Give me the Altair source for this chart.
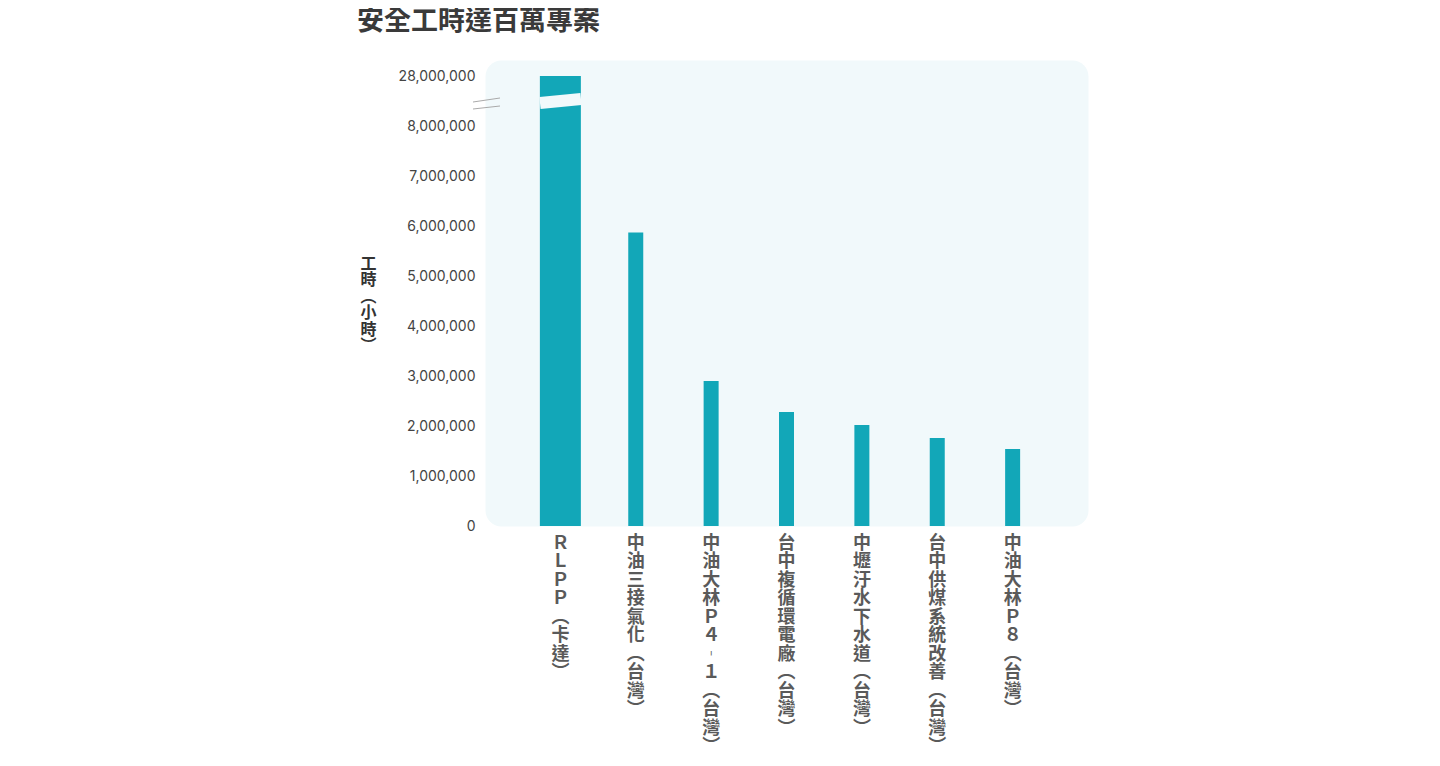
import altair as alt
import pandas as pd

projects = [
    "ＲＬＰＰ︵卡達︶",
    "中油三接氣化︵台灣︶",
    "中油大林Ｐ４︲１︵台灣︶",
    "台中複循環電廠︵台灣︶",
    "中壢汙水下水道︵台灣︶",
    "台中供煤系統改善︵台灣︶",
    "中油大林Ｐ８︵台灣︶",
]
hours = [28000000, 5870000, 2900000, 2280000, 2020000, 1760000, 1540000]

y_ticks = [0, 1000000, 2000000, 3000000, 4000000, 5000000, 6000000, 7000000, 8000000, 9000000]
BREAK_AT = 9000000
BREAK_LABEL = "28,000,000"

df = pd.DataFrame({"project": projects, "hours": hours})

BAR = "#12A7B8"
BG = "#F1F9FB"

base = alt.Chart(df)

bars = base.transform_calculate(
    shown=f"min(datum.hours, {BREAK_AT})"
).mark_bar(color=BAR).encode(
    x=alt.X(
        "project:N",
        sort=None,
        scale=alt.Scale(paddingInner=0, paddingOuter=0.5),
        axis=alt.Axis(
            title=None,
            labelAngle=0,
            labelExpr="split(datum.label, '')",
            labelBaseline="top",
            labelAlign="center",
            labelLineHeight=18.5,
            labelFontSize=18,
            labelFont="Noto Sans CJK TC",
            labelFontWeight="bold",
            labelColor="#5A5A5A",
            labelPadding=8,
            ticks=False,
            domain=False,
        ),
    ),
    y=alt.Y(
        "shown:Q",
        scale=alt.Scale(domain=[0, 9320000], nice=False, zero=True),
        axis=alt.Axis(
            title=["工", "時", "︵", "小", "時", "︶"],
            titleAngle=0,
            titleFont="Noto Sans CJK TC",
            titleFontSize=16,
            titleFontWeight="bold",
            titleColor="#333333",
            titleLineHeight=16.5,
            titleBaseline="top",
            titleAlign="center",
            titleX=-117,
            titleY=195,
            values=y_ticks,
            labelExpr=f"datum.value == {BREAK_AT} ? '{BREAK_LABEL}' : format(datum.value, ',')",
            labelFont="Inter",
            labelFontSize=14,
            labelColor="#444444",
            labelPadding=10,
            ticks=False,
            domain=False,
            grid=False,
        ),
    ),
    size=alt.condition(alt.datum.project == projects[0], alt.value(41), alt.value(15)),
)

gap = alt.Chart(pd.DataFrame({"y": [8460000], "y2": [8540000]})).mark_rule(
    color=BG, strokeWidth=12
).encode(
    x=alt.value(55), x2=alt.value(96),
    y=alt.Y("y:Q"), y2=alt.Y2("y2:Q"),
)

marks = alt.Chart(pd.DataFrame({"y": [8480000, 8340000], "y2": [8560000, 8400000]})).mark_rule(
    color="#AAAAAA", strokeWidth=1
).encode(
    x=alt.value(-12), x2=alt.value(15),
    y=alt.Y("y:Q"), y2=alt.Y2("y2:Q"),
)

chart = alt.layer(bars, gap, marks).properties(
    width=603,
    height=466,
    background="white",
    autosize=alt.AutoSizeParams(type="none"),
    padding={"left": 477, "top": 52, "right": 20, "bottom": 236},
    title=alt.TitleParams(
        "安全工時達百萬專案",
        anchor="start",
        frame="bounds",
        font="Noto Sans CJK TC",
        fontSize=27,
        fontWeight="bold",
        color="#3A3A3A",
        offset=24,
        dx=-3,
    ),
).configure_view(
    fill=BG, strokeOpacity=0, cornerRadius=16
)

chart.save("out.html", embed_options={"renderer": "svg", "actions": False})
